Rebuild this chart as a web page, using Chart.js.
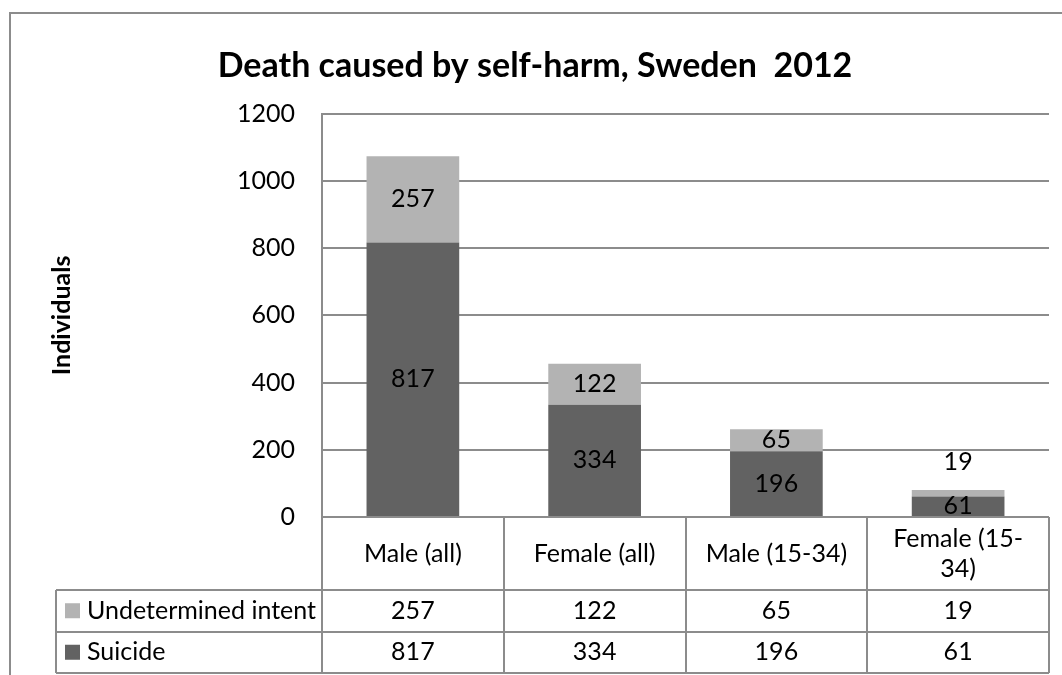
<!DOCTYPE html>
<html>
<head>
<meta charset="utf-8">
<script src="https://cdn.jsdelivr.net/npm/chart.js@4/dist/chart.umd.min.js"></script>
<style>
  html, body { margin: 0; padding: 0; background: #fff; }
  canvas { display: block; }
</style>
</head>
<body>
<canvas id="c" width="1062" height="675"></canvas>
<script>
// Deaths by self-harm in Sweden, 2012
const categories = ['Male (all)', 'Female (all)', 'Male (15-34)', ['Female (15-', '34)']];
const suicide = [817, 334, 196, 61];
const undetermined = [257, 122, 65, 19];
const seriesNames = ['Undetermined intent', 'Suicide'];
const yTickValues = [0, 200, 400, 600, 800, 1000, 1200];

const FONT = 'Lato, "Open Sans", sans-serif';
const TXT = 25;
const DARK = '#626262';
const LIGHT = '#b3b3b3';
const RULE = '#8c8c8c';

// Outer frame of the chart object
const framePlugin = {
  id: 'frame',
  beforeDraw(chart) {
    const ctx = chart.ctx;
    ctx.save();
    ctx.fillStyle = '#fff';
    ctx.fillRect(0, 0, chart.width, chart.height);
    ctx.strokeStyle = RULE;
    ctx.lineWidth = 2;
    ctx.beginPath();
    ctx.moveTo(10, chart.height);
    ctx.lineTo(10, 13);
    ctx.lineTo(chart.width, 13);
    ctx.stroke();
    ctx.restore();
  }
};

// Value labels centred in each stacked segment
const segmentLabels = {
  id: 'segmentLabels',
  afterDatasetsDraw(chart) {
    const ctx = chart.ctx;
    ctx.save();
    ctx.font = TXT + 'px ' + FONT;
    ctx.fillStyle = '#000';
    ctx.textAlign = 'center';
    ctx.textBaseline = 'middle';
    const last = chart.data.datasets.length - 1;
    chart.data.datasets.forEach((ds, di) => {
      const meta = chart.getDatasetMeta(di);
      meta.data.forEach((bar, i) => {
        const h = Math.abs(bar.base - bar.y);
        let y = (bar.y + bar.base) / 2;
        // thin top segments get their label lifted above the bar
        if (di === last && h < 12) y = bar.y - 28;
        ctx.fillText(String(ds.data[i]), bar.x, y);
      });
    });
    ctx.restore();
  }
};

// Data table under the plot: category header row plus one row per series
const dataTable = {
  id: 'dataTable',
  afterDraw(chart) {
    const ctx = chart.ctx;
    const area = chart.chartArea;
    const xs = chart.scales.x;
    const n = chart.data.labels.length;
    const colW = (area.right - area.left) / n;
    const headerH = 73;
    const rowH = 41.5;
    const legendLeft = 56;
    const top = area.bottom;
    const headBottom = top + headerH;
    const rowRows = [
      { name: seriesNames[0], color: LIGHT, values: undetermined },
      { name: seriesNames[1], color: DARK, values: suicide }
    ];
    const bottom = headBottom + rowH * rowRows.length;

    ctx.save();
    ctx.strokeStyle = RULE;
    ctx.lineWidth = 2;
    ctx.beginPath();
    // column rules
    for (let i = 0; i <= n; i++) {
      const x = Math.round(area.left + i * colW);
      ctx.moveTo(x, top);
      ctx.lineTo(x, bottom);
    }
    ctx.moveTo(legendLeft, headBottom);
    ctx.lineTo(legendLeft, bottom);
    // row rules
    ctx.moveTo(area.left, top);
    ctx.lineTo(area.right, top);
    for (let r = 0; r <= rowRows.length; r++) {
      const y = Math.round(headBottom + r * rowH);
      ctx.moveTo(legendLeft, y);
      ctx.lineTo(area.right, y);
    }
    ctx.stroke();

    ctx.fillStyle = '#000';
    ctx.font = TXT + 'px ' + FONT;
    ctx.textBaseline = 'middle';
    ctx.textAlign = 'center';
    // header cells
    chart.data.labels.forEach((lab, i) => {
      const lines = Array.isArray(lab) ? lab : [lab];
      const cx = xs.getPixelForValue(i);
      const lh = 30;
      const cy = top + headerH / 2;
      lines.forEach((t, k) => {
        ctx.fillText(t, cx, cy + (k - (lines.length - 1) / 2) * lh);
      });
    });
    // series rows
    rowRows.forEach((row, r) => {
      const cy = headBottom + r * rowH + rowH / 2;
      ctx.fillStyle = row.color;
      ctx.fillRect(legendLeft + 9, cy - 7.5, 15, 15);
      ctx.fillStyle = '#000';
      ctx.textAlign = 'left';
      ctx.fillText(row.name, legendLeft + 31, cy);
      ctx.textAlign = 'center';
      row.values.forEach((v, i) => {
        ctx.fillText(String(v), xs.getPixelForValue(i), cy);
      });
    });
    ctx.restore();
  }
};

new Chart(document.getElementById('c'), {
  type: 'bar',
  data: {
    labels: categories,
    datasets: [
      { label: seriesNames[1], data: suicide, backgroundColor: DARK, barPercentage: 0.51, categoryPercentage: 1 },
      { label: seriesNames[0], data: undetermined, backgroundColor: LIGHT, barPercentage: 0.51, categoryPercentage: 1 }
    ]
  },
  options: {
    responsive: false,
    animation: false,
    events: [],
    layout: { padding: { left: 21, right: 13, top: 0, bottom: 158 } },
    plugins: {
      legend: { display: false },
      tooltip: { enabled: false },
      title: {
        display: true,
        text: 'Death caused by self-harm, Sweden  2012',
        color: '#000',
        font: { family: FONT, size: 34, weight: 'bold', lineHeight: 1.2 },
        padding: { top: 46, bottom: 27 }
      }
    },
    scales: {
      x: { stacked: true, display: false },
      y: {
        stacked: true,
        min: 0,
        max: 1200,
        afterBuildTicks(scale) { scale.ticks = yTickValues.map(v => ({ value: v })); },
        afterFit(scale) { scale.width = 301; },
        ticks: { color: '#000', font: { family: FONT, size: TXT }, padding: 27, callback: v => String(v) },
        grid: { color: RULE, lineWidth: 2, drawTicks: false },
        border: { display: true, color: RULE, width: 2 },
        title: {
          display: true,
          text: 'Individuals',
          color: '#000',
          font: { family: FONT, size: TXT, weight: 'bold', lineHeight: 1.2 },
          padding: { top: 26, bottom: 0 }
        }
      }
    }
  },
  plugins: [framePlugin, segmentLabels, dataTable]
});
</script>
</body>
</html>
